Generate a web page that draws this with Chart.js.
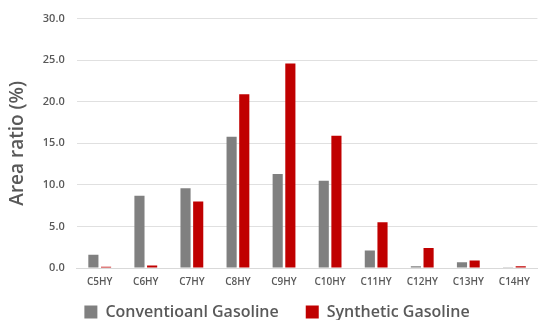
<!DOCTYPE html>
<html><head><meta charset="utf-8">
<script src="https://cdn.jsdelivr.net/npm/chart.js@4/dist/chart.umd.min.js"></script>
<style>html,body{margin:0;padding:0;background:#fff}#w{width:538px;height:320px}</style>
</head><body><div id="w"><canvas id="c"></canvas></div>
<script>
const categories = ["C5HY","C6HY","C7HY","C8HY","C9HY","C10HY","C11HY","C12HY","C13HY","C14HY"];
const conventional = [1.6, 8.7, 9.6, 15.8, 11.3, 10.5, 2.1, 0.2, 0.7, 0.1];
const synthetic = [0.15, 0.3, 8.0, 20.9, 24.6, 15.9, 5.5, 2.4, 0.9, 0.2];
const seriesNames = ["Conventioanl Gasoline", "Synthetic Gasoline"];
const yTicks = [0, 5, 10, 15, 20, 25, 30];

const LEGEND_PAD = 27;
const legendPatch = {
  id: 'legendPatch',
  afterInit(chart) {
    const lg = chart.legend;
    if (!lg) return;
    const fit = lg.fit.bind(lg);
    lg.fit = function () { fit(); this.height = 24; };
    const draw = lg.draw.bind(lg);
    lg.draw = function () {
      const t = this.top, l = this.left, r = this.right;
      this.top = t - LEGEND_PAD + 8; this.left = l + 5; this.right = r + 5;
      draw();
      this.top = t; this.left = l; this.right = r;
    };
  }
};

new Chart(document.getElementById('c'), {
  type: 'bar',
  data: {
    labels: categories,
    datasets: [
      {label: seriesNames[0], data: conventional, backgroundColor: '#808080', categoryPercentage: 0.55, barPercentage: 0.8},
      {label: seriesNames[1], data: synthetic, backgroundColor: '#C00000', categoryPercentage: 0.55, barPercentage: 0.8}
    ]
  },
  plugins: [legendPatch],
  options: {
    responsive: true, maintainAspectRatio: false, animation: false,
    layout: {padding: {top: 10, right: 0, left: 6, bottom: 0}},
    plugins: {
      legend: {position: 'bottom', labels: {boxWidth: 13, boxHeight: 13, color: '#595959', padding: LEGEND_PAD,
        font: {family: 'Open Sans', size: 16, weight: '600'}}},
      tooltip: {enabled: false}
    },
    scales: {
      x: {grid: {display: false, drawTicks: false}, border: {color: '#d9d9d9'},
        ticks: {color: '#595959', font: {family: 'Open Sans', size: 10, weight: '600'}, maxRotation: 0, padding: 8}},
      y: {min: 0, max: 30, afterBuildTicks: a => { a.ticks = yTicks.map(v => ({value: v})); },
        grid: {color: '#e0e0e0', drawTicks: false}, border: {display: false},
        ticks: {color: '#595959', padding: 12, font: {family: 'Open Sans', size: 11, weight: '600'}, callback: v => v.toFixed(1)},
        title: {display: true, text: 'Area ratio (%)', color: '#595959', padding: {top: 0, bottom: 2},
          font: {family: 'Open Sans', size: 19, weight: '600'}}}
    }
  }
});
</script></body></html>
